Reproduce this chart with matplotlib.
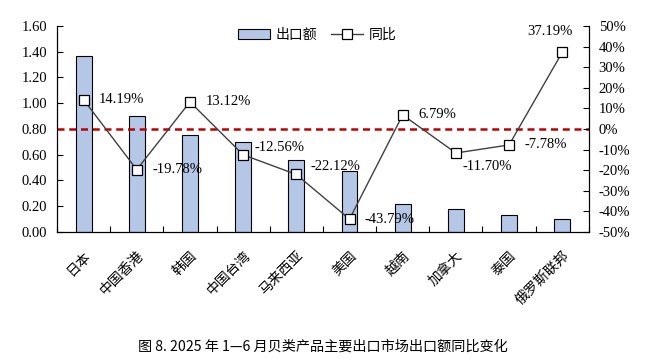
import matplotlib.pyplot as plt
import matplotlib.transforms as mtransforms
import numpy as np

plt.rcParams['font.family'] = ['Liberation Serif', 'Noto Sans CJK SC']

markets = ['日本', '中国香港', '韩国', '中国台湾', '马来西亚', '美国', '越南', '加拿大', '泰国', '俄罗斯联邦']
export_value = [1.37, 0.90, 0.75, 0.70, 0.56, 0.47, 0.22, 0.18, 0.13, 0.10]
yoy = [14.19, -19.78, 13.12, -12.56, -22.12, -43.79, 6.79, -11.70, -7.78, 37.19]
# label offsets in points (dx, dy) per point
offsets = [(11, 0), (11, 0), (11, 0), (8, 5), (10, 6), (11, 0), (11, 0), (5, -10), (11, 0), (-9, 15)]
aligns = ['left'] * 9 + ['center']

fig = plt.figure(figsize=(6.55, 3.59), dpi=100)
ax = fig.add_axes([0.087, 0.354, 0.812, 0.5738])
x = np.arange(len(markets))

bars = ax.bar(x, export_value, width=0.3, color='#B4C7E7', edgecolor='black', linewidth=0.8, label='出口额', zorder=2)
ax.set_xlim(-0.5, len(markets) - 0.5)
ax.set_ylim(0, 1.6)
ax.set_yticks(np.arange(0, 1.61, 0.2))
ax.set_yticklabels(['%.2f' % v for v in np.arange(0, 1.61, 0.2)], fontsize=10.5)
ax.set_xticks(np.arange(-0.5, len(markets), 1.0))
ax.set_xticklabels([])
ax.set_xticks(x, minor=True)
ax.set_xticklabels(markets, minor=True, rotation=45, ha='right', rotation_mode='anchor', fontsize=10,
                   family=['Noto Sans CJK SC'])
shift = mtransforms.ScaledTranslation(-7 / 100, 0, fig.dpi_scale_trans)
for lab in ax.get_xticklabels(minor=True):
    lab.set_transform(lab.get_transform() + shift)
ax.tick_params(axis='x', which='minor', length=0, pad=12)
ax.tick_params(axis='x', which='major', direction='in', length=4)
ax.tick_params(axis='y', direction='in', length=4, pad=7)
ax.spines['top'].set_visible(False)

ax2 = ax.twinx()
ax2.set_ylim(-50, 50)
ax2.set_yticks(np.arange(-50, 51, 10))
ax2.set_yticklabels(['%d%%' % v for v in np.arange(-50, 51, 10)], fontsize=10.5)
ax2.tick_params(axis='y', direction='in', length=4, pad=7)
ax2.spines['top'].set_visible(False)
ax2.axhline(0, color='#C00000', linestyle=(0, (2.8, 1.9)), linewidth=1.8, zorder=1)
line, = ax2.plot(x, yoy, color='#404040', linewidth=1.0, marker='s', markersize=6.5,
                 markerfacecolor='white', markeredgecolor='black', markeredgewidth=0.9, label='同比', zorder=3)
for i, v in enumerate(yoy):
    ax2.annotate('%.2f%%' % v, (x[i], v), xytext=offsets[i], textcoords='offset points',
                 ha=aligns[i], va='center', fontsize=10.5)

ax.legend([bars, line], ['出口额', '同比'], loc='center', bbox_to_anchor=(0.49, 0.955), ncol=2,
          frameon=False, prop={'family': 'Noto Sans CJK SC', 'size': 10}, handlelength=2.3,
          columnspacing=1.0, handletextpad=0.4)

fig.text(0.493, 0.0334, '图 8. 2025 年 1—6 月贝类产品主要出口市场出口额同比变化', ha='center', va='center',
         fontsize=10.2, family=['Noto Sans CJK SC'], weight='medium')
fig.savefig('out.png', dpi=100)
